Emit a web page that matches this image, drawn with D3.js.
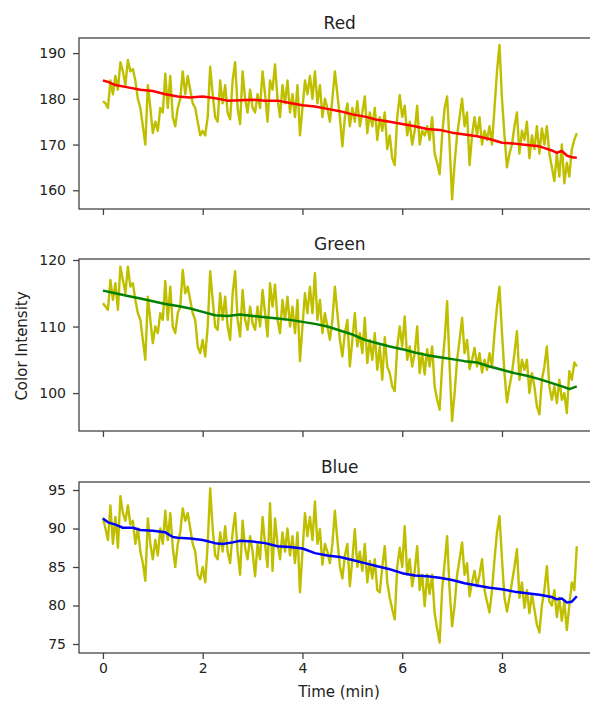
<!DOCTYPE html>
<html><head><meta charset="utf-8">
<script src="https://cdn.jsdelivr.net/npm/d3@7"></script>
<style>body{margin:0;background:#fff;} svg{display:block;font-family:"DejaVu Sans",sans-serif;}</style>
</head><body><svg id="c" width="590" height="704"></svg>
<script>
// ---------- DATA ----------
const duration = 9.5; // minutes, raw samples evenly spaced over [0, duration]
const xTicks = [0, 2, 4, 6, 8];
const titles = ["Red", "Green", "Blue"];
const redTicks = [160, 170, 180, 190];
const greenTicks = [100, 110, 120];
const blueTicks = [75, 80, 85, 90, 95];

const redRaw = [179.5,179,178,184,181,185,182,188,186,183,188.5,186,186.5,184,180,178,174,170,
183,178,172.5,175,173,178,177,185.5,178,185,176,174,178,180,186,181,185,182,179,178,175,172,173,172,176,187,181,176,175,184,179,183,177,175.5,184,188,178,174.5,186,180,177,182,178,177,181,178,186,181,175,184,182,187.5,180,
176,183,179,184,177,181,176,183,172,178,
184,181,185,180,186,179,183,176,180,178,
175,180,186,181,176,169.6,176,179,174,178,
175,179.5,174,177,180.5,172.5,177,174,178,171,
176,173,177,169,172,167,165.5,176,180.8,176,
178.5,172,175,170,173,178.5,170,173,172,174,
171,176,168,166,163.5,172,178,180.5,170,158,
166,172,176,180,174,177,165.5,172,176,172,
176,170,173,171,174,170,178,186,191.8,180,
172,165,168,170,174,177,168,173,171,175,
167,172,169,174,168,173.5,170,174,168,165,
162,168,163,170,161.5,166,163,169,171,172.5];

const greenRaw = [113.5,113,112.5,117,114,116.5,112.5,119,117,115,119,116,116.5,114,112,111,108,105,
114.5,111,107.5,110,109,112,111,116.8,111,116,
110,109,112,113,118.5,115,116,114,112,111,
107,106,108,105.5,110,118.3,114,110,109.5,115,
111,114.5,110,108,115,118.3,111,108.5,115.5,111,
109.5,113,110.5,109.5,113,110,115.5,112,108.5,116.5,
113,116.3,111,
109,114,111,114.5,110,113,109,114,104.8,110,
115,112,116,112,118,111,114,109,112,110,
108,111,116,112,108,105.5,109,111,104,108,
112,107,109,106,111.3,104.5,108,105,109,103.5,
107,102,108.4,104,103,101,100.3,107,110,107,
111.5,105,107,104,106,110,103,106,102.8,106.6,
104,107,101,99,97.5,104,108,113.8,104,95.8,
100,105,108,111.3,106,108,103.6,105,106.8,104,
106,103.1,105,103.5,106,104,109,113,116,109,
103,98.6,101,103,106,109.3,102,105,103.5,105,
100,103,101,98,96.8,102,104,107,101,99,
101,98.5,102,99,100,97,103.3,102,104.6,104];

const blueRaw = [91.4,90,88.5,93,88,91.5,87.5,94.2,92,91,93,90.5,91,88,90,87,85.5,83.2,
91.3,88,86,88.5,86.5,90,88,92.3,88.5,92,
87.5,85,88,89.5,92.6,91,92,90,88,87,
84,83.4,85,83,88,95.2,90,86.5,86,89.5,
87,90.3,87,85.5,89.5,92,87,84,91,87.5,
86,89,87,83.8,88,86,91.5,88,85,93.3,
84.5,91.3,88,
86,89.5,87,90,86.5,89,85.5,89.5,81.7,87,
92,89,91.5,88.5,93.5,88,89.9,85.3,88,87,
85.5,88,92.3,88.5,85.1,83.5,86.5,88,82.5,86,
89.9,85,87,84.5,88,83,85.8,83.5,86,82,
81.7,85,87.7,83,81,79.5,78.2,85,87.5,85,
90.3,84,86,82.5,84.5,87.7,82,84,79.9,84,
81.5,84,79,77,75.2,82,85.5,89,82,77.3,
80,84,86,88.2,84,85.5,81.2,83,84.5,82.5,
84,86,82,80.5,79.1,82,86,89.5,91.6,86,
81,79.2,81,83,85,87.3,81,83,79.7,82,
79,81.5,79.5,77.5,76.5,80,82,85.1,80.5,80,
82,78.5,81,78,80.5,76.8,80,83,82,87.7];

// trend lines: [time, value]
const redTrend = [[0,184],[0.1,183.7],[0.25,183],[0.5,182.5],[0.75,182],[1,181.7],[1.25,181],[1.5,180.5],[1.75,180.3],[2,180.5],[2.25,180.1],[2.5,179.6],[2.75,179.7],[3,179.8],[3.25,179.6],[3.5,179.6],[3.75,179.1],[4,178.6],[4.25,178.3],[4.5,177.8],[4.75,177.3],[5,176.6],[5.25,176.1],[5.5,175.4],[5.75,175],[6,174.5],[6.25,174],[6.5,173.4],[6.75,173.2],[7,172.6],[7.25,172.2],[7.5,171.8],[7.75,171.2],[8,170.4],[8.25,170.2],[8.5,169.9],[8.75,169.6],[9,168.7],[9.1,168.2],[9.2,168.6],[9.3,167.6],[9.4,167.2],[9.5,167.1]];
const greenTrend = [[0,115.4],[0.25,115],[0.5,114.6],[0.75,114.2],[1,113.8],[1.25,113.4],[1.5,113.1],[1.75,112.7],[2,112.2],[2.25,111.7],[2.5,111.6],[2.75,111.8],[3,111.6],[3.25,111.4],[3.5,111.2],[3.75,111],[4,110.7],[4.25,110.4],[4.5,110],[4.75,109.4],[5,108.8],[5.25,108],[5.5,107.5],[5.75,107],[6,106.6],[6.25,106.1],[6.5,105.7],[6.75,105.4],[7,105.1],[7.25,104.8],[7.5,104.6],[7.75,104],[8,103.5],[8.25,103],[8.5,102.6],[8.75,102.1],[9,101.5],[9.25,100.9],[9.35,100.6],[9.5,101]];
const blueTrend = [[0,91.3],[0.1,90.8],[0.25,90.5],[0.4,90.1],[0.6,90.1],[0.75,89.8],[1,89.7],[1.25,89.5],[1.4,88.9],[1.5,88.8],[1.75,88.7],[2,88.5],[2.25,88.1],[2.4,88],[2.6,88.2],[2.75,88.4],[3,88.3],[3.25,88.1],[3.5,87.7],[3.75,87.6],[4,87.4],[4.25,86.8],[4.5,86.5],[4.75,86.3],[5,85.9],[5.25,85.5],[5.5,85.1],[5.75,84.7],[6,84.2],[6.25,83.9],[6.5,83.8],[6.75,83.6],[7,83.3],[7.25,82.9],[7.5,82.6],[7.75,82.3],[8,82.1],[8.25,81.8],[8.5,81.6],[8.75,81.4],[9,81.1],[9.1,80.8],[9.2,80.9],[9.3,80.4],[9.4,80.5],[9.5,81.2]];

// ---------- LAYOUT ----------
const svg = d3.select("#c");
const left = 79, right = 600.5;
const x = d3.scaleLinear().domain([-0.48, 9.975]).range([left, right]);
const rawColor = "#bfbf00";
const panels = [
  {title: titles[0], raw: redRaw, trend: redTrend, color: "#ff0000", ticks: redTicks, domain: [155.9, 193.3], top: 38, bottom: 209},
  {title: titles[1], raw: greenRaw, trend: greenTrend, color: "#008000", ticks: greenTicks, domain: [94.3, 120.15], top: 259, bottom: 431},
  {title: titles[2], raw: blueRaw, trend: blueTrend, color: "#0000ff", ticks: blueTicks, domain: [73.83, 96.04], top: 482, bottom: 653}
];

panels.forEach((p, idx) => {
  const y = d3.scaleLinear().domain(p.domain).range([p.bottom, p.top]);
  const g = svg.append("g");
  const n = p.raw.length;
  const rawPts = p.raw.map((v, i) => [i * duration / (n - 1), v]);
  const line = d3.line().x(d => x(d[0])).y(d => y(d[1]));

  g.append("path").datum(rawPts).attr("d", line)
    .attr("fill", "none").attr("stroke", rawColor).attr("stroke-width", 2.4).attr("stroke-linejoin", "round");
  g.append("path").datum(p.trend).attr("d", line)
    .attr("fill", "none").attr("stroke", p.color).attr("stroke-width", 2.5).attr("stroke-linejoin", "round");

  // spines
  g.append("rect").attr("x", left).attr("y", p.top).attr("width", right - left).attr("height", p.bottom - p.top)
    .attr("fill", "none").attr("stroke", "#444").attr("stroke-width", 1.3);

  // y axis
  const ya = g.append("g").attr("transform", `translate(${left},0)`)
    .call(d3.axisLeft(y).tickValues(p.ticks).tickSize(6).tickPadding(7).tickFormat(d3.format("d")));
  ya.select(".domain").remove();
  ya.selectAll("line").attr("stroke", "#444").attr("stroke-width", 1.3);
  ya.selectAll("text").attr("fill", "#222").style("font-size", "14px").style("font-family", "DejaVu Sans");

  // x axis
  const xa = g.append("g").attr("transform", `translate(0,${p.bottom})`)
    .call(d3.axisBottom(x).tickValues(xTicks).tickSize(6).tickPadding(4).tickFormat(idx === 2 ? d3.format("d") : () => ""));
  xa.select(".domain").remove();
  xa.selectAll("line").attr("stroke", "#444").attr("stroke-width", 1.3);
  xa.selectAll("text").attr("fill", "#222").style("font-size", "14px").style("font-family", "DejaVu Sans");

  // title
  g.append("text").attr("x", (left + right) / 2).attr("y", p.top - 9)
    .attr("text-anchor", "middle").attr("fill", "#222").style("font-size", "17px").text(p.title);
});

svg.append("text").attr("transform", "translate(27,346) rotate(-90)")
  .attr("text-anchor", "middle").attr("fill", "#222").style("font-size", "15px").text("Color Intensity");
svg.append("text").attr("x", 339).attr("y", 697)
  .attr("text-anchor", "middle").attr("fill", "#222").style("font-size", "15px").text("Time (min)");
</script>
</body></html>
